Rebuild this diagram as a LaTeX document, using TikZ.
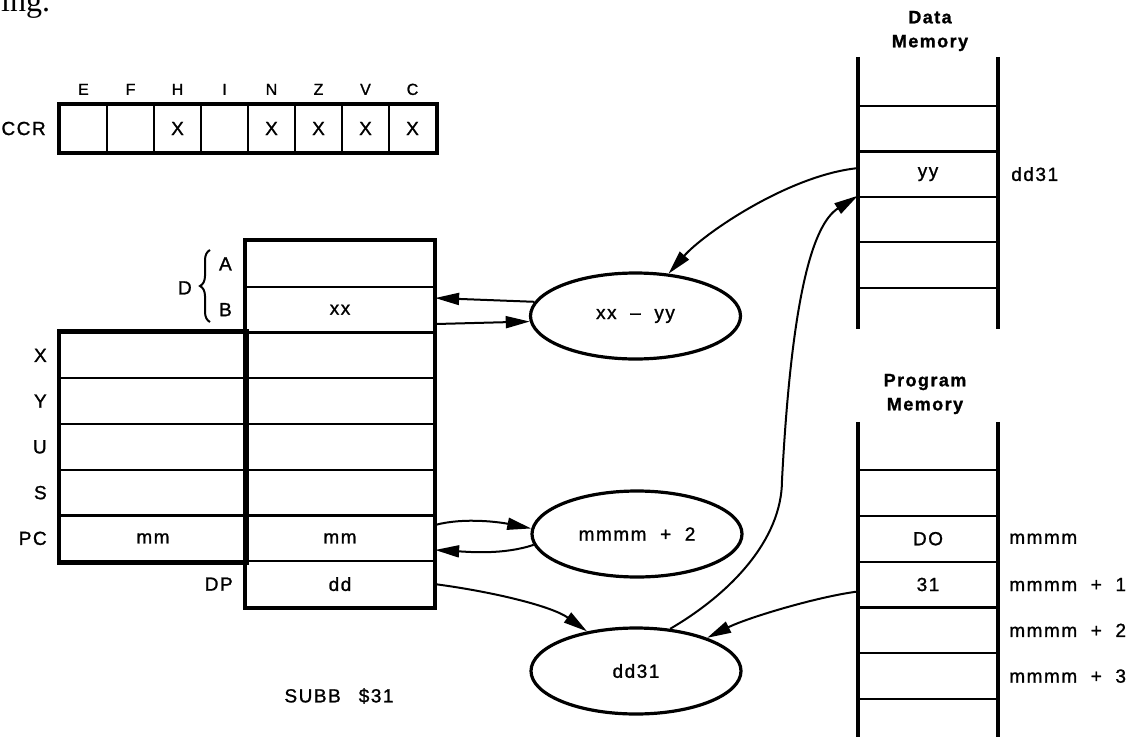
\documentclass[tikz,border=0pt]{standalone}
\usepackage{fontspec}
\newfontfamily\diagfont{Liberation Sans}[LetterSpace=8,FakeBold=1.2]
\newfontfamily\bookfont{Liberation Serif}
\usetikzlibrary{arrows.meta,shapes.geometric,decorations.pathreplacing}

\begin{document}
\begin{tikzpicture}[x=1pt,y=-1pt,
  font=\diagfont\fontsize{19}{22}\selectfont,
  lbl/.style={inner sep=0pt},
  cell/.style={draw,line width=2.2pt,inner sep=0pt,minimum height=45.75pt},
  ccrcell/.style={cell,minimum width=47pt,minimum height=47pt},
  regcell/.style={cell,minimum width=188pt},
  lowcell/.style={cell,minimum width=186pt},
  memcell/.style={cell,minimum width=138pt,minimum height=45.4pt},
  wall/.style={line width=4.5pt},
  alu/.style={ellipse,draw,line width=3.2pt,minimum width=210pt,minimum height=86pt,inner sep=0pt},
  flow/.style={-{Triangle[length=24pt,width=12pt]},line width=2pt},
  head/.style={align=center,font=\diagfont\bfseries\fontsize{18}{24}\selectfont}]
\useasboundingbox (0,0) rectangle (1139,736);

\node[lbl,anchor=base west] (frag) at (1,12) {\bookfont\fontsize{32}{36}\selectfont ing.};

\foreach \f/\m [count=\i] in {E/,F/,H/X,I/,N/X,Z/X,V/X,C/X} {
  \node[ccrcell] (ccr\i) at ({36.5+47*\i},128.5) {\m};
  \node[lbl,anchor=base,font=\diagfont\fontsize{16}{18}\selectfont] (flag\i) at ([yshift=9pt]ccr\i.north) {\f};
}
\draw[wall] (ccr1.north west) rectangle (ccr8.south east);
\node[lbl,anchor=east] (ccrname) at ([xshift=-13pt]ccr1.west) {CCR};

\foreach \r/\v [count=\k] in {A/,B/xx,X/,Y/,U/,S/,PC/mm,DP/dd}
  \node[regcell] (reg\r) at (340,{241+45.75*(\k-0.5)}) {\v};
\foreach \r/\v [count=\k from 3] in {X/,Y/,U/,S/,PC/mm} {
  \node[lowcell] (low\r) at (153,{241+45.75*(\k-0.5)}) {\v};
  \node[lbl,anchor=east] (name\r) at ([xshift=-12pt]low\r.west) {\r};
}
\draw[wall] (lowX.north west) rectangle (lowPC.south east);
\draw[wall] (regA.north west) rectangle (regDP.south east);
\node[lbl,anchor=east] (nameDP) at ([xshift=-12pt]regDP.west) {DP};
\node[lbl,anchor=west] (nameA) at ([xshift=-26pt]regA.west) {A};
\node[lbl,anchor=west] (nameB) at ([xshift=-26pt]regB.west) {B};
\node[lbl] (nameD) at ([xshift=-60pt]regA.south west) {D};
\draw[line width=2pt,decorate,decoration={brace,amplitude=10pt}] (210,322) -- (210,250);

\node[alu] (sub) at (635.5,316) {xx~~–~~yy};
\node[alu] (inc) at (637,534) {mmmm~~+~~2};
\node[alu] (ea) at (636,671) {dd31};

\foreach \v [count=\k] in {{},yy,{},{}}
  \node[memcell] (dcell\k) at (928,{106+45.4*(\k-0.5)}) {\v};
\draw[wall] ([yshift=48pt]dcell1.north west) -- ([yshift=-40pt]dcell4.south west);
\draw[wall] ([yshift=48pt]dcell1.north east) -- ([yshift=-40pt]dcell4.south east);
\node[head] (dhead) at (930,31) {Data\\Memory};
\node[lbl,anchor=west] (addrD) at ([xshift=13pt]dcell2.east) {dd31};

\foreach \v [count=\k] in {{},DO,31,{},{}}
  \node[memcell,minimum height=45.8pt] (pcell\k) at (928,{470+45.8*(\k-0.5)}) {\v};
\draw[wall] ([yshift=47pt]pcell1.north west) -- ([yshift=-50pt]pcell5.south west);
\draw[wall] ([yshift=47pt]pcell1.north east) -- ([yshift=-50pt]pcell5.south east);
\node[head] (phead) at (925,394) {Program\\Memory};
\foreach \k/\t in {2/mmmm,3/mmmm~~+~~1,4/mmmm~~+~~2,5/mmmm~~+~~3}
  \node[lbl,anchor=west] (addr\k) at ([xshift=11pt]pcell\k.east) {\t};

\node (instr) at (339,696) {SUBB\hspace{18pt}\$31};

\coordinate (riser) at (782,480);
\draw[flow] (sub.172) -- ([yshift=11.6pt]regB.east);
\draw[flow] ([yshift=-14.4pt]regB.east) -- (sub.183);
\draw[flow] ([yshift=13.4pt]regPC.east) .. controls +(30,-8) and +(-30,-6) .. (inc.177);
\draw[flow] (inc.186) .. controls +(-30,10) and +(35,2) .. ([yshift=-11.6pt]regPC.east);
\draw[flow] (regDP.east) .. controls +(60,8) and +(-35,-25) .. (ea.141);
\draw[flow] ([yshift=-7pt]pcell3.west) .. controls +(-40,5) and +(40,-20) .. (ea.25);
\draw[flow] (ea.51) .. controls +(60,-35) and +(0,60) .. (riser) .. controls +(10,-190) and +(-44,28) .. (dcell3.north west);
\draw[flow] ([yshift=6pt]dcell2.west) .. controls +(-69,7) and +(35,-40) .. (sub.52);
\end{tikzpicture}
\end{document}
